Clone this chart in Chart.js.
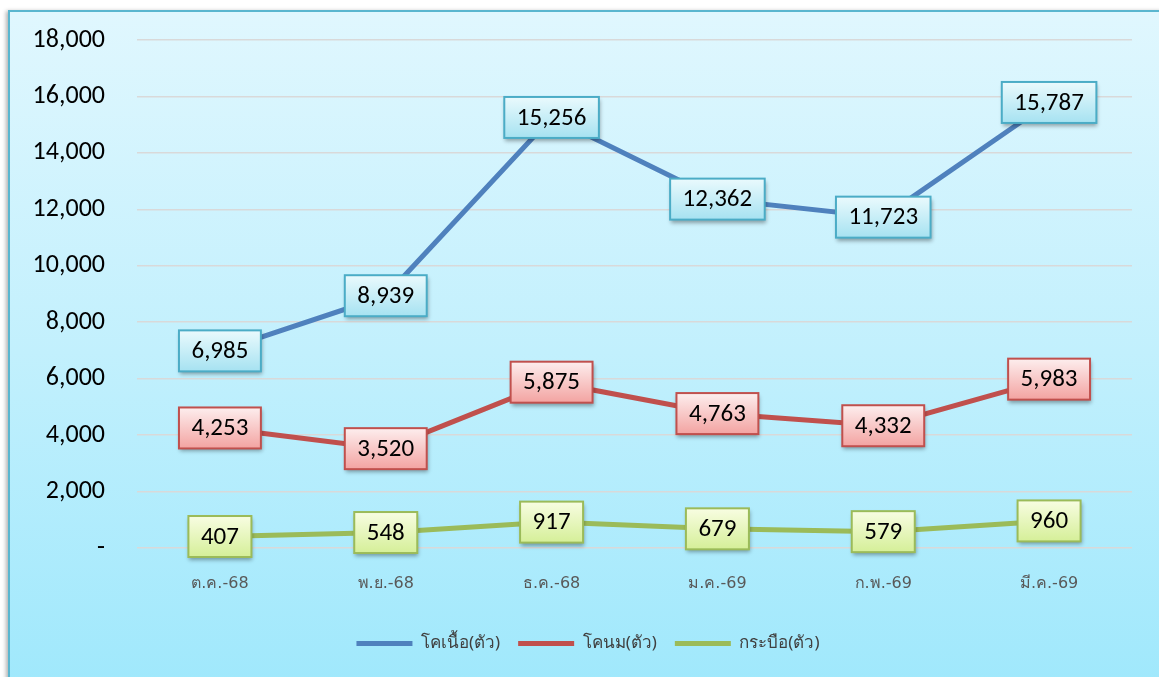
<!DOCTYPE html>
<html>
<head>
<meta charset="utf-8">
<script src="https://cdn.jsdelivr.net/npm/chart.js@4.4.1/dist/chart.umd.min.js"></script>
<style>
  body { margin: 0; background: #ffffff; overflow: hidden; }
  #chartContainer {
    position: absolute; left: 8px; top: 10px;
    width: 1160px; height: 680px;
    border: 2px solid #5ab6cf;
    box-shadow: -2px 1px 4px rgba(0,0,0,0.3);
    background: linear-gradient(to bottom, #e0f7fe 0%, #c2f0fd 50%, #9fe8fc 100%);
    overflow: hidden;
  }
  #lineChart { position: absolute; left: 0; top: -20px; }
</style>
</head>
<body>
<div id="chartContainer">
  <canvas id="lineChart" width="1160" height="700"></canvas>
</div>
<script>
// datos del gráfico
const meses = ['ต.ค.-68', 'พ.ย.-68', 'ธ.ค.-68', 'ม.ค.-69', 'ก.พ.-69', 'มี.ค.-69'];
const nombresSeries = ['โคเนื้อ(ตัว)', 'โคนม(ตัว)', 'กระบือ(ตัว)'];
const coNua = [6985, 8939, 15256, 12362, 11723, 15787];
const coNom = [4253, 3520, 5875, 4763, 4332, 5983];
const krabue = [407, 548, 917, 679, 579, 960];
const yMin = 0, yMax = 18000, yPaso = 2000;

// estilos de las cajas de etiquetas
const estilosCaja = [
  { borde: '#4bacc6', arriba: '#eafafd', abajo: '#a6e2f1' },
  { borde: '#c0504d', arriba: '#fdeeee', abajo: '#f3a3a1' },
  { borde: '#9bbb59', arriba: '#f8fde2', abajo: '#d5ef98' }
];

const cajasEtiquetas = {
  id: 'cajasEtiquetas',
  afterLayout(chart) {
    // mover la leyenda un poco a la derecha, como en el original
    chart.legend.left += 17;
    chart.legend.right += 17;
  },
  afterDatasetsDraw(chart) {
    const ctx = chart.ctx;
    ctx.save();
    ctx.font = '25px "Carlito", "Open Sans", sans-serif';
    chart.data.datasets.forEach((ds, i) => {
      const meta = chart.getDatasetMeta(i);
      const est = estilosCaja[i];
      meta.data.forEach((pt, j) => {
        const texto = ds.data[j].toLocaleString('en-US');
        const w = ctx.measureText(texto).width + 25;
        const h = 41;
        const x = pt.x - w / 2, y = pt.y - h / 2;
        const grad = ctx.createLinearGradient(0, y, 0, y + h);
        grad.addColorStop(0, est.arriba);
        grad.addColorStop(1, est.abajo);
        ctx.shadowColor = 'rgba(0,0,0,0.35)';
        ctx.shadowBlur = 4;
        ctx.shadowOffsetX = 1;
        ctx.shadowOffsetY = 3;
        ctx.fillStyle = grad;
        ctx.fillRect(x, y, w, h);
        ctx.shadowColor = 'transparent';
        ctx.lineWidth = 2;
        ctx.strokeStyle = est.borde;
        ctx.strokeRect(x, y, w, h);
        ctx.fillStyle = '#000000';
        ctx.textAlign = 'center';
        ctx.textBaseline = 'middle';
        ctx.fillText(texto, pt.x, pt.y + 1);
      });
    });
    ctx.restore();
  }
};

const serie = (label, data, color) => ({
  label: label,
  data: data,
  borderColor: color,
  backgroundColor: color,
  borderWidth: 5,
  borderCapStyle: 'round',
  pointRadius: 0,
  tension: 0,
  fill: false
});

const ctx = document.getElementById('lineChart').getContext('2d');
window.lineChart = new Chart(ctx, {
  type: 'line',
  data: {
    labels: meses,
    datasets: [
      serie(nombresSeries[0], coNua, '#4f81bd'),
      serie(nombresSeries[1], coNom, '#c0504d'),
      serie(nombresSeries[2], krabue, '#9bbb59')
    ]
  },
  plugins: [cajasEtiquetas],
  options: {
    responsive: false,
    animation: false,
    layout: { padding: { left: 0, right: 38, top: 48, bottom: 30 } },
    plugins: {
      tooltip: { enabled: false },
      legend: {
        position: 'bottom',
        labels: {
          usePointStyle: true,
          pointStyle: 'line',
          pointStyleWidth: 56,
          boxHeight: 17,
          padding: 18,
          color: '#404040',
          font: { family: '"Noto Sans", sans-serif', size: 17 }
        }
      }
    },
    scales: {
      x: {
        offset: true,
        grid: { display: false },
        border: { display: false },
        ticks: {
          color: '#595959',
          padding: 18,
          font: { family: '"DejaVu Sans", sans-serif', size: 16 }
        },
        afterFit(scale) { scale.height = 69; }
      },
      y: {
        min: yMin,
        max: yMax,
        grid: { color: '#d9d9d9', lineWidth: 1.5, drawTicks: false },
        border: { display: false },
        ticks: {
          stepSize: yPaso,
          padding: 32,
          color: '#000000',
          font: { family: '"Carlito", "Open Sans", sans-serif', size: 26 },
          callback: v => v === 0 ? '-' : v.toLocaleString('en-US')
        },
        afterFit(scale) { scale.width = 127; }
      }
    }
  }
});
</script>
</body>
</html>
